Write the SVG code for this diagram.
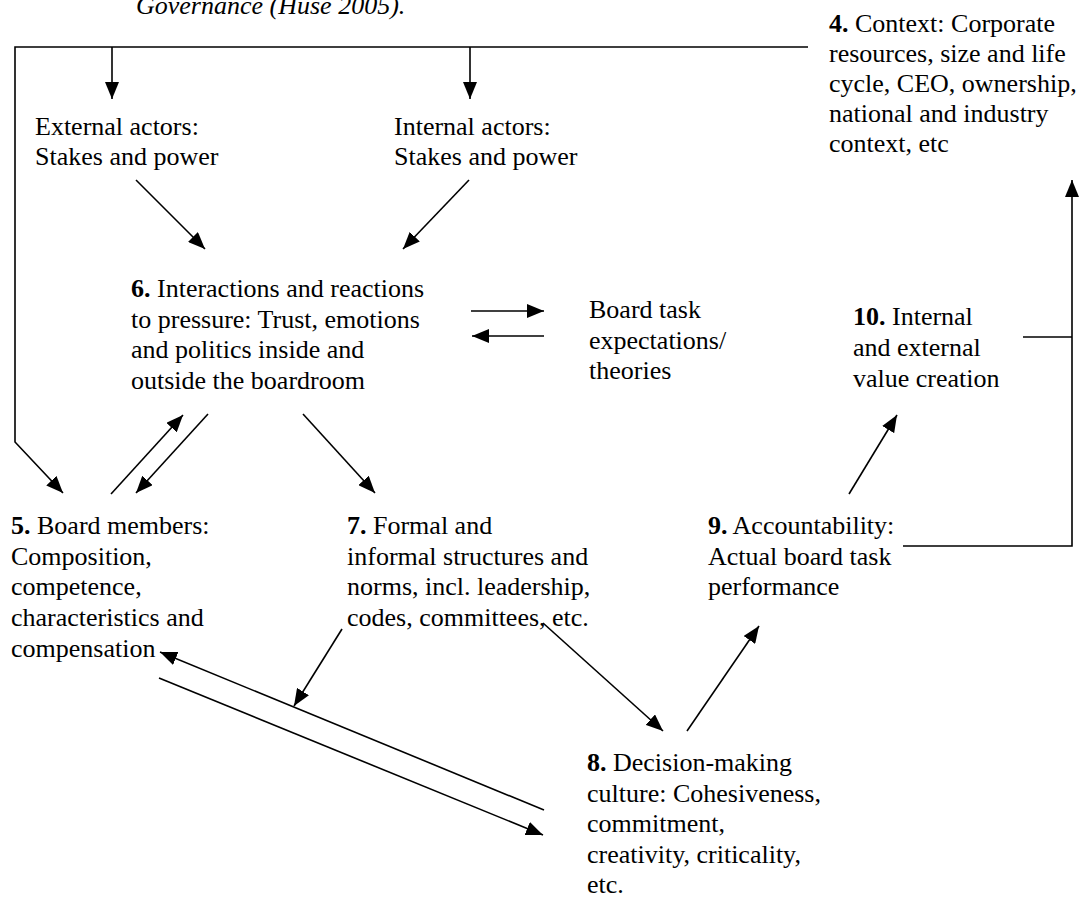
<svg xmlns="http://www.w3.org/2000/svg" width="1085" height="897" viewBox="0 0 1085 897">
<style>
text{font-family:"Liberation Serif","Times New Roman",serif;font-size:26px;fill:#000}
.b{font-weight:bold}
.c line,.c polyline{stroke:#000;stroke-width:1.6;fill:none}
.a{marker-end:url(#ah)}
</style>
<defs>
<marker id="ah" markerUnits="userSpaceOnUse" markerWidth="18" markerHeight="14" refX="17" refY="7" orient="auto">
<path d="M0,0 L17,7 L0,14 z" fill="#000"/>
</marker>
</defs>
<rect width="1085" height="897" fill="#fff"/>
<text x="136" y="14" font-style="italic" font-size="28">Governance (Huse 2005).</text>
<g class="c" id="connectors">
<polyline points="808,47 15,47 15,442 63,493" class="a"/>
<line x1="112" y1="47" x2="112" y2="99" class="a"/>
<line x1="470" y1="47" x2="470" y2="99" class="a"/>
<line x1="136" y1="180" x2="205" y2="249" class="a"/>
<line x1="469" y1="180" x2="403" y2="249" class="a"/>
<line x1="471" y1="311" x2="544" y2="311" class="a"/>
<line x1="544" y1="336" x2="472" y2="336" class="a"/>
<line x1="111" y1="494" x2="183" y2="415" class="a"/>
<line x1="208" y1="414" x2="136" y2="493" class="a"/>
<line x1="303" y1="414" x2="375" y2="493" class="a"/>
<line x1="342" y1="629" x2="294" y2="706" class="a"/>
<line x1="544" y1="810" x2="160" y2="652" class="a"/>
<line x1="159" y1="678" x2="543" y2="835" class="a"/>
<line x1="543" y1="623" x2="663" y2="731" class="a"/>
<line x1="687" y1="731" x2="759" y2="626" class="a"/>
<line x1="849" y1="494" x2="897" y2="415" class="a"/>
<polyline points="903,546 1072,546 1072,180" class="a"/>
<line x1="1023" y1="337" x2="1072" y2="337"/>
</g>
<g id="n4"><text x="829" y="32"><tspan class="b">4.</tspan> Context: Corporate</text><text x="829" y="62">resources, size and life</text><text x="829" y="92">cycle, CEO, ownership,</text><text x="829" y="122">national and industry</text><text x="829" y="152">context, etc</text></g>
<g id="ext"><text x="35" y="135">External actors:</text><text x="35" y="165">Stakes and power</text></g>
<g id="int"><text x="394" y="135">Internal actors:</text><text x="394" y="165">Stakes and power</text></g>
<g id="n6"><text x="131" y="297"><tspan class="b">6.</tspan> Interactions and reactions</text><text x="131" y="327.5">to pressure: Trust, emotions</text><text x="131" y="358">and politics inside and</text><text x="131" y="388.5">outside the boardroom</text></g>
<g id="task"><text x="589" y="318">Board task</text><text x="589" y="349">expectations/</text><text x="589" y="379">theories</text></g>
<g id="n10"><text x="853" y="325"><tspan class="b">10.</tspan> Internal</text><text x="853" y="356">and external</text><text x="853" y="387">value creation</text></g>
<g id="n5"><text x="11" y="534"><tspan class="b">5.</tspan> Board members:</text><text x="11" y="565">Composition,</text><text x="11" y="595">competence,</text><text x="11" y="626">characteristics and</text><text x="11" y="657">compensation</text></g>
<g id="n7"><text x="347" y="534"><tspan class="b">7.</tspan> Formal and</text><text x="347" y="565">informal structures and</text><text x="347" y="595">norms, incl. leadership,</text><text x="347" y="626">codes, committees, etc.</text></g>
<g id="n9"><text x="708" y="534"><tspan class="b">9.</tspan> Accountability:</text><text x="708" y="565">Actual board task</text><text x="708" y="595">performance</text></g>
<g id="n8"><text x="587" y="771"><tspan class="b">8.</tspan> Decision-making</text><text x="587" y="801.5">culture: Cohesiveness,</text><text x="587" y="832">commitment,</text><text x="587" y="862.5">creativity, criticality,</text><text x="587" y="893">etc.</text></g>
</svg>
